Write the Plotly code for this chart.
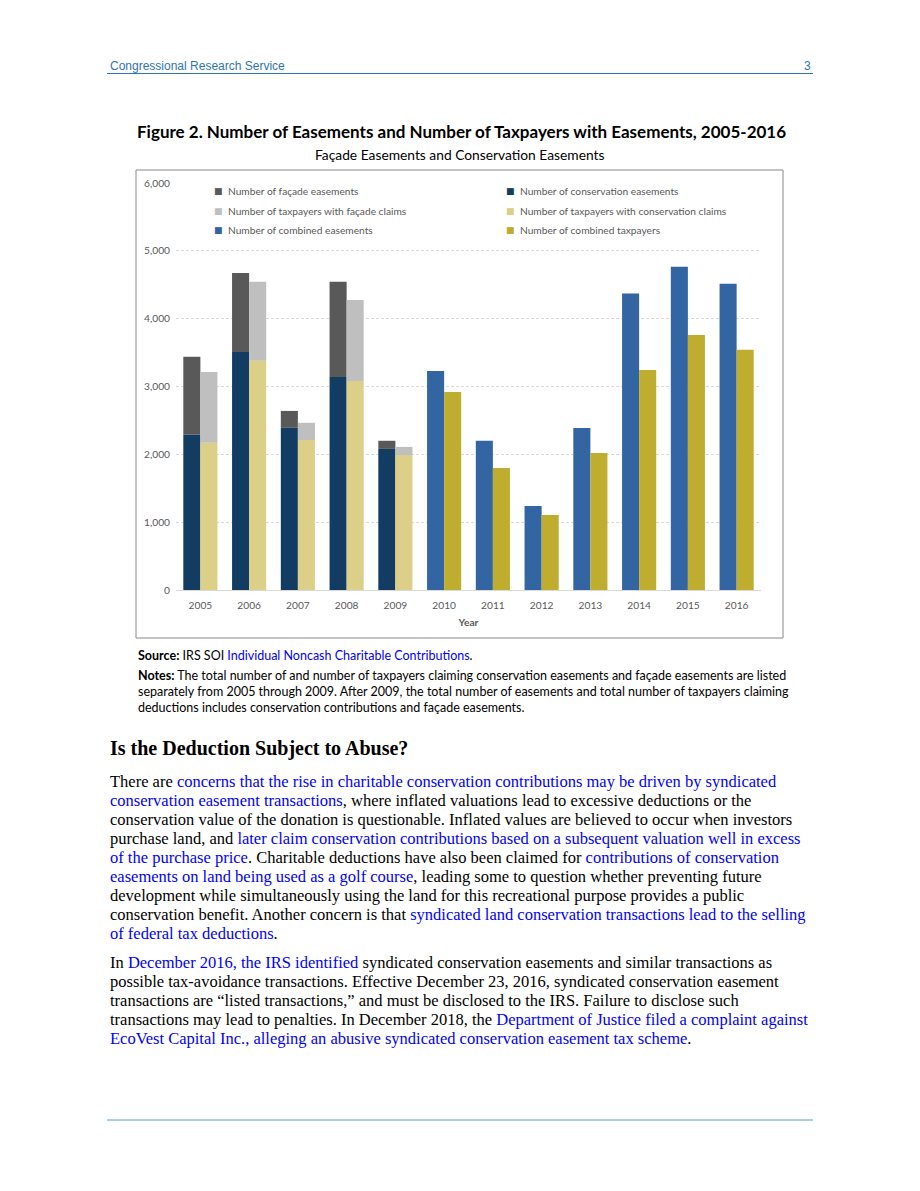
import plotly.graph_objects as go

# ---------------- data ----------------
years = ["2005", "2006", "2007", "2008", "2009", "2010", "2011", "2012",
         "2013", "2014", "2015", "2016"]
stacked_years = years[:5]
combined_years = years[5:]

conservation_easements = [2290, 3510, 2390, 3140, 2080]
facade_easements = [1150, 1165, 250, 1405, 120]
conservation_taxpayers = [2170, 3380, 2210, 3080, 1990]
facade_taxpayers = [1045, 1165, 255, 1195, 120]
combined_easements = [3230, 2200, 1240, 2390, 4370, 4765, 4515]
combined_taxpayers = [2920, 1800, 1105, 2020, 3245, 3760, 3540]

y_ticks = [0, 1000, 2000, 3000, 4000, 5000, 6000]

names = {
    "fe": "Number of façade easements",
    "ce": "Number of conservation easements",
    "ft": "Number of taxpayers with façade claims",
    "ct": "Number of taxpayers with conservation claims",
    "be": "Number of combined easements",
    "bt": "Number of combined taxpayers",
}
colors = {
    "fe": "#595959",
    "ce": "#133c63",
    "ft": "#bfbfbf",
    "ct": "#dccf88",
    "be": "#3465a3",
    "bt": "#bfad2f",
}

# ---------------- page geometry (pixels) ----------------
PAGE_W, PAGE_H = 920, 1191
L, R, T, B = 176, 761, 183, 590
W, H = R - L, B - T


def px(x):
    return (x - L) / W


def py(y):
    return 1 - (y - T) / H


fig = go.Figure()

fig.add_bar(x=stacked_years, y=conservation_easements, name=names["ce"],
            offsetgroup="e", marker_color=colors["ce"])
fig.add_bar(x=stacked_years, y=facade_easements, base=conservation_easements,
            name=names["fe"], offsetgroup="e", marker_color=colors["fe"])
fig.add_bar(x=combined_years, y=combined_easements, name=names["be"],
            offsetgroup="e", marker_color=colors["be"])
fig.add_bar(x=stacked_years, y=conservation_taxpayers, name=names["ct"],
            offsetgroup="t", marker_color=colors["ct"])
fig.add_bar(x=stacked_years, y=facade_taxpayers, base=conservation_taxpayers,
            name=names["ft"], offsetgroup="t", marker_color=colors["ft"])
fig.add_bar(x=combined_years, y=combined_taxpayers, name=names["bt"],
            offsetgroup="t", marker_color=colors["bt"])
fig.update_traces(marker_line_width=0, showlegend=False)

chart_font = "Lato"
gray = "#595959"

fig.update_layout(
    width=PAGE_W, height=PAGE_H,
    margin=dict(l=L, r=PAGE_W - R, t=T, b=PAGE_H - B, pad=0),
    paper_bgcolor="white", plot_bgcolor="white",
    barmode="group", bargap=0.3, bargroupgap=0,
    showlegend=False,
    font=dict(family=chart_font, size=10, color=gray),
    xaxis=dict(type="category", categoryorder="array", categoryarray=years,
               showgrid=False, showline=False, ticks="",
               tickfont=dict(size=10.2, color=gray), ticklabelstandoff=8,
               title=dict(text="<b>Year</b>", font=dict(size=10.2, color=gray),
                          standoff=8)),
    yaxis=dict(range=[0, 6000], tickvals=y_ticks, tickformat=",",
               showgrid=True, gridcolor="#d9d9d9", griddash="3px,2px",
               gridwidth=1, zeroline=True, zerolinecolor="#d9d9d9",
               zerolinewidth=1, showline=False, ticks="",
               tickfont=dict(size=10.2, color=gray), ticklabelstandoff=5),
)

# legend (two columns, three rows): text starts at x=226 / 518
legend_layout = [("fe", 226, 191), ("ce", 518, 191),
                 ("ft", 226, 211), ("ct", 518, 211),
                 ("be", 226, 230), ("bt", 518, 230)]
for key, lx, ly in legend_layout:
    fig.add_annotation(
        xref="paper", yref="paper", x=px(lx), y=py(ly),
        xanchor="left", yanchor="middle", showarrow=False,
        text=names[key], font=dict(family=chart_font, size=10.2, color=gray))
    fig.add_annotation(
        xref="paper", yref="paper", x=px(lx - 1), y=py(ly),
        xanchor="right", yanchor="middle", showarrow=False,
        text="■", font=dict(family="DejaVu Sans", size=9, color=colors[key]))

shapes = []
# chart frame
shapes.append(dict(type="rect", xref="paper", yref="paper",
                   x0=px(136), x1=px(783), y0=py(170), y1=py(638),
                   line=dict(color="#8a8a8a", width=1)))
# header / footer rules
shapes.append(dict(type="line", xref="paper", yref="paper",
                   x0=px(107), x1=px(813), y0=py(73.5), y1=py(73.5),
                   line=dict(color="#2e74b5", width=1)))
shapes.append(dict(type="line", xref="paper", yref="paper",
                   x0=px(107), x1=px(813), y0=py(1120), y1=py(1120),
                   line=dict(color="#5b9bd5", width=1)))
fig.update_layout(shapes=shapes)


def text_at(x, y, text, family, size, color="#000000", anchor="left"):
    fig.add_annotation(xref="paper", yref="paper", x=px(x), y=py(y),
                       xanchor=anchor, yanchor="middle", showarrow=False,
                       align=anchor if anchor != "center" else "center",
                       text=text, font=dict(family=family, size=size, color=color))


BLUE = "#0000ff"


def link(s):
    return f"<span style='color:{BLUE}'>{s}</span>"


# header
text_at(108, 66, "Congressional Research Service", "Liberation Sans", 12, "#2e74b5")
text_at(813, 66, "3", "Liberation Sans", 12, "#2e74b5", anchor="right")

# figure title
text_at(461, 131, "<b>Figure 2. Number of Easements and Number of Taxpayers with Easements, 2005-2016</b>",
        chart_font, 17, "#000000", anchor="center")
text_at(460, 154, "Façade Easements and Conservation Easements", chart_font, 13.8,
        "#000000", anchor="center")

# source & notes
text_at(136, 655, "<b>Source:</b> IRS SOI " + link("Individual Noncash Charitable Contributions") + ".",
        chart_font, 12.5)
notes_lines = [
    "<b>Notes:</b> The total number of and number of taxpayers claiming conservation easements and façade easements are listed",
    "separately from 2005 through 2009. After 2009, the total number of easements and total number of taxpayers claiming",
    "deductions includes conservation contributions and façade easements.",
]
for i, line in enumerate(notes_lines):
    text_at(136, 675 + 16 * i, line, chart_font, 12.5)

# heading
text_at(108, 748, "<b>Is the Deduction Subject to Abuse?</b>", "Liberation Serif", 20)

para1 = [
    "There are " + link("concerns that the rise in charitable conservation contributions may be driven by syndicated"),
    link("conservation easement transactions") + ", where inflated valuations lead to excessive deductions or the",
    "conservation value of the donation is questionable. Inflated values are believed to occur when investors",
    "purchase land, and " + link("later claim conservation contributions based on a subsequent valuation well in excess"),
    link("of the purchase price") + ". Charitable deductions have also been claimed for " + link("contributions of conservation"),
    link("easements on land being used as a golf course") + ", leading some to question whether preventing future",
    "development while simultaneously using the land for this recreational purpose provides a public",
    "conservation benefit. Another concern is that " + link("syndicated land conservation transactions lead to the selling"),
    link("of federal tax deductions") + ".",
]
for i, line in enumerate(para1):
    text_at(108, 781 + 19 * i, line, "Liberation Serif", 16.5)

para2 = [
    "In " + link("December 2016, the IRS identified") + " syndicated conservation easements and similar transactions as",
    "possible tax-avoidance transactions. Effective December 23, 2016, syndicated conservation easement",
    "transactions are “listed transactions,” and must be disclosed to the IRS. Failure to disclose such",
    "transactions may lead to penalties. In December 2018, the " + link("Department of Justice filed a complaint against"),
    link("EcoVest Capital Inc., alleging an abusive syndicated conservation easement tax scheme") + ".",
]
for i, line in enumerate(para2):
    text_at(108, 962 + 19 * i, line, "Liberation Serif", 16.5)

fig.write_html("out.html", config={"displayModeBar": False},
               post_script="document.body.style.margin='0';")
